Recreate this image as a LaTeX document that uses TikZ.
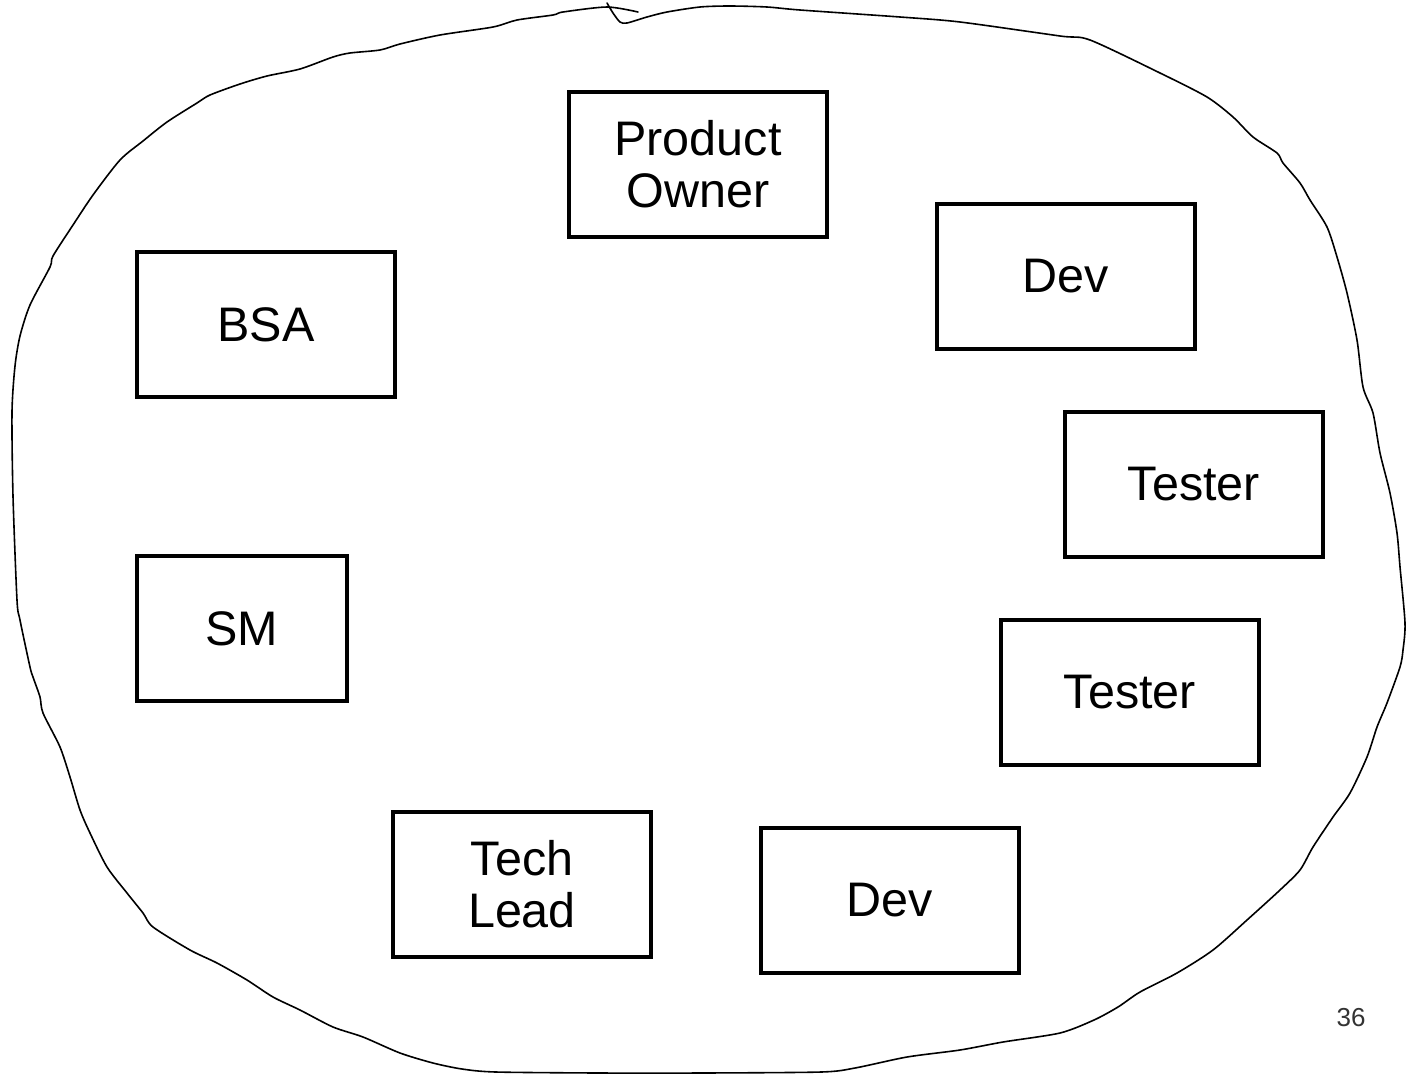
\documentclass[tikz,border=0pt]{standalone}
\usepackage{fontspec}
\setmainfont{Liberation Sans}
\begin{document}
\begin{tikzpicture}[x=1pt,y=-1pt,
  role/.style={draw, line width=4.6pt, minimum width=258pt, minimum height=145pt,
    inner sep=0pt, align=center, font=\fontsize{48.5}{52}\selectfont},
  blob/.style={line width=1.6pt, line join=round, line cap=round}]
\useasboundingbox (0,0) rectangle (1415,1074);
\fill[white] (0,0) rectangle (1415,1074);
\draw[blob] plot[smooth, tension=0.45] coordinates {
(607,3) (613,13) (620,22) (627,23) (647,17) (667,12) (700,7) (730,6) (767,7) (800,10)
(900,17) (960,22) (1060,36) (1090,40) (1160,73) (1207,97) (1233,117) (1253,137)
(1277,153) (1283,163) (1300,183) (1310,200) (1327,227) (1337,257) (1347,293) (1357,340)
(1363,387) (1373,413) (1380,453) (1390,493) (1397,533) (1400,567) (1405,623) (1403,650)
(1400,667) (1387,703) (1377,727) (1367,757) (1350,793) (1333,817) (1313,847) (1300,870)
(1280,890) (1247,920) (1213,950) (1177,973) (1140,992) (1118,1007) (1094,1020) (1060,1033)
(1003,1042) (960,1050) (907,1057) (855,1068) (821,1072) (700,1073) (600,1073) (496,1072)
(462,1069) (433,1063) (400,1053) (363,1037) (333,1027) (300,1010) (273,997) (247,980)
(217,963) (190,950) (153,927) (143,913) (127,893) (107,867) (90,833) (80,810) (70,777)
(60,747) (43,713) (40,697) (33,677) (30,667) (20,620) (17,600) (13,496) (12,412) (15,366)
(20,336) (30,305) (50,267) (53,256) (73,225) (93,195) (120,160) (143,141) (167,122)
(197,103) (210,95) (240,84) (267,76) (300,69) (333,57) (350,53) (380,50) (400,44)
(440,35) (493,27) (517,20) (553,15) (563,12) (607,7) (638,12)};
\node[role] (po) at (698,164.5) {Product\\Owner};
\node[role] (dev1) at (1066,276.5) {Dev};
\node[role] (bsa) at (266,324.5) {BSA};
\node[role] (tester1) at (1194,484.5) {Tester};
\node[role, minimum width=210pt] (sm) at (242,628.5) {SM};
\node[role] (tester2) at (1130,692.5) {Tester};
\node[role] (tl) at (522,884.5) {Tech\\Lead};
\node[role] (dev2) at (890,900.5) {Dev};
\node[font=\fontsize{26}{30}\selectfont, text=black!80] (pg) at (1351,1018) {36};
\end{tikzpicture}
\end{document}
